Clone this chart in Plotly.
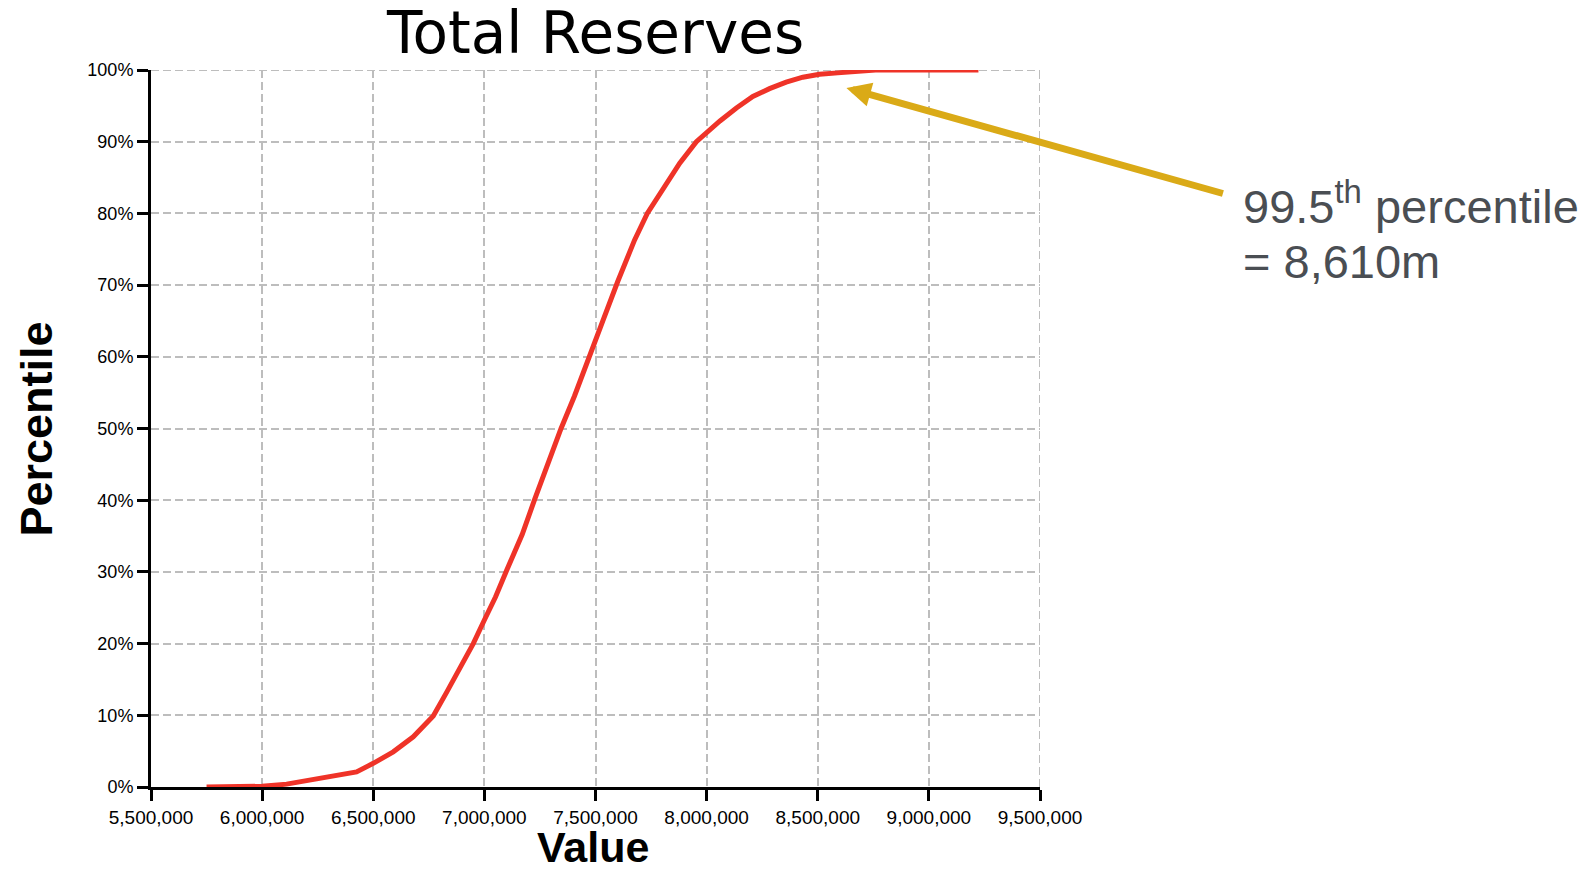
import plotly.graph_objects as go

# ---- data ----
values = [5750000, 5850000, 6000000, 6110000, 6200000, 6320000, 6425000, 6500000,
          6590000, 6680000, 6770000, 6830000, 6890000, 6950000, 7000000, 7050000,
          7100000, 7170000, 7225000, 7285000, 7345000, 7405000, 7470000, 7533000,
          7600000, 7676000, 7733000, 7789000, 7879000, 7954000, 8000000, 8060000,
          8134000, 8208000, 8283000, 8358000, 8433000, 8508000, 8590000, 8690000,
          8760000, 9223000]
percentiles = [0.0, 0.0, 0.1, 0.4, 0.9, 1.5, 2.1, 3.3,
               4.9, 7.0, 9.9, 13.2, 16.5, 20.0, 23.3, 26.5,
               30.2, 35.2, 40.0, 45.0, 50.0, 54.5, 60.0, 65.0,
               70.5, 76.3, 80.0, 82.8, 87.0, 90.0, 91.3, 92.9,
               94.7, 96.3, 97.4, 98.3, 99.0, 99.4, 99.6, 99.8,
               100.0, 100.0]

x_ticks = [5500000, 6000000, 6500000, 7000000, 7500000, 8000000, 8500000, 9000000, 9500000]
x_tick_labels = ["5,500,000", "6,000,000", "6,500,000", "7,000,000", "7,500,000",
                 "8,000,000", "8,500,000", "9,000,000", "9,500,000"]
y_ticks = [0, 10, 20, 30, 40, 50, 60, 70, 80, 90, 100]
y_tick_labels = ["0%", "10%", "20%", "30%", "40%", "50%", "60%", "70%", "80%", "90%", "100%"]

title_text = "Total Reserves"
x_title = "Value"
y_title = "Percentile"
note_line1 = "99.5<sup>th</sup> percentile"
note_line2 = "= 8,610m"
arrow_x = 8629000
arrow_y = 97.5

FONT = "Liberation Sans, Arial, sans-serif"
TITLE_FONT = "DejaVu Sans, Liberation Sans, sans-serif"
RED = "#EF3328"
GOLD = "#DAAA17"
GRID = "#BDBDBD"
DASH = "8px,4px"

fig = go.Figure()
fig.add_trace(go.Scatter(
    x=values, y=percentiles, mode="lines",
    line=dict(color=RED, width=5),
    hoverinfo="skip", showlegend=False,
))

W, H = 1594, 869
L, R, T, B = 151, 554, 70, 82
pw = W - L - R
ph = H - T - B

axis_common = dict(
    showline=True, linecolor="black", linewidth=3,
    ticks="outside", ticklen=11, tickwidth=2.5, tickcolor="black",
    showgrid=True, gridcolor=GRID, gridwidth=2, griddash=DASH,
    zeroline=False, mirror=False,
)

fig.update_layout(
    width=W, height=H,
    margin=dict(l=L, r=R, t=T, b=B, pad=0),
    paper_bgcolor="white", plot_bgcolor="white",
    font=dict(family=FONT, color="black"),
    title=dict(text=title_text, x=(L + pw / 2) / W, xanchor="center",
               y=1 - 33 / H, yanchor="middle", yref="container",
               font=dict(family=TITLE_FONT, size=58, color="black")),
    xaxis=dict(range=[5500000, 9500000], tickvals=x_ticks, ticktext=x_tick_labels,
               tickfont=dict(family=FONT, size=19, color="black"), **axis_common),
    yaxis=dict(range=[0, 100], tickvals=y_ticks, ticktext=y_tick_labels,
               tickfont=dict(family=FONT, size=18, color="black"), **axis_common),
)

# edge gridlines (Plotly hides grid lines that sit on the plot edge)
fig.add_shape(type="line", xref="paper", yref="y", x0=0, x1=1, y0=y_ticks[-1], y1=y_ticks[-1],
              line=dict(color=GRID, width=2, dash=DASH), layer="below")
fig.add_shape(type="line", xref="x", yref="paper", x0=x_ticks[-1], x1=x_ticks[-1], y0=0, y1=1,
              line=dict(color=GRID, width=2, dash=DASH), layer="below")

annotations = [
    dict(text="<b>" + x_title + "</b>", xref="paper", yref="paper",
         x=(593 - L) / pw, y=(H - B - 847) / ph, xanchor="center", yanchor="middle",
         showarrow=False, font=dict(family=FONT, size=43, color="black")),
    dict(text="<b>" + y_title + "</b>", xref="paper", yref="paper",
         x=(36 - L) / pw, y=0.5, xanchor="center", yanchor="middle", textangle=-90,
         showarrow=False, font=dict(family=FONT, size=45, color="black")),
    dict(text=note_line1, xref="paper", yref="paper",
         x=(1241 - L) / pw, y=(H - B - 203) / ph, xanchor="left", yanchor="middle",
         showarrow=False, font=dict(family=FONT, size=47, color="#4A4E53")),
    dict(text=note_line2, xref="paper", yref="paper",
         x=(1241 - L) / pw, y=(H - B - 261) / ph, xanchor="left", yanchor="middle",
         showarrow=False, font=dict(family=FONT, size=47, color="#4A4E53")),
    dict(text="", x=arrow_x, y=arrow_y, xref="x", yref="y",
         showarrow=True, ax=378, ay=106, arrowhead=2, arrowsize=0.7,
         arrowwidth=7, arrowcolor=GOLD),
]
fig.update_layout(annotations=annotations)

fig.write_html("out.html", include_plotlyjs=True, config={"displayModeBar": False},
               post_script="document.body.style.margin='0';document.body.style.overflow='hidden';")
